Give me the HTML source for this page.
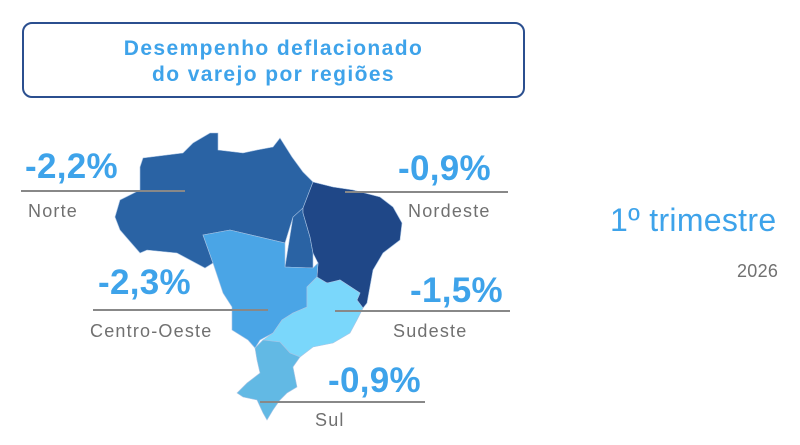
<!DOCTYPE html>
<html><head><meta charset="utf-8"><style>
body{margin:0;width:800px;height:445px;background:#fff;position:relative;overflow:hidden;font-family:"Liberation Sans",sans-serif}
.box{position:absolute;left:22px;top:22px;width:503px;height:76px;border:2px solid #2b4f8f;border-radius:10px;color:#3ea3ea;font-weight:bold;font-size:21px;letter-spacing:1.4px;text-align:center;line-height:26px;padding-top:12px;box-sizing:border-box}
.p{position:absolute;color:#3ea3ea;font-weight:bold;font-size:35px;letter-spacing:0.3px;line-height:1}
.l{position:absolute;color:#707070;font-size:18px;letter-spacing:1.2px;line-height:1}
.ln{position:absolute;height:2px;background:#888}
</style></head><body>
<div class="box">Desempenho deflacionado<br>do varejo por regiões</div>
<svg width="800" height="445" style="position:absolute;left:0;top:0">
<g stroke="#a9c4e4" stroke-width="0.6">
<polygon fill="#2a63a4" points="115,217 120,200 140,190 140,167 143,158 183,153 193,143 210,133 218,133 218,150 243,153 257,150 273,147 280,138 292,157 303,172 313,182 303,208 293,217 285,267 313,268 313,253 310,237 303,213 303,208 313,182 303,208 293,217 285,243 230,230 203,235 213,263 205,268 177,253 147,250 140,253 120,230"/>
<polygon fill="#1f4787" points="313,182 333,187 353,190 380,197 393,207 402,223 400,240 383,253 373,270 367,303 363,308 357,300 360,293 340,280 330,283 320,282 317,277 318,263 313,253 310,237 303,213 303,208"/>
<polygon fill="#4aa5e6" points="203,235 230,230 285,243 285,267 313,268 318,263 317,277 307,287 307,307 293,313 282,320 273,333 260,340 255,348 248,340 232,330 232,307 223,293 213,263"/>
<polygon fill="#7ad7fb" points="317,277 327,283 340,280 360,293 357,300 363,308 357,320 350,333 333,343 313,347 300,357 290,353 280,342 263,340 273,333 282,320 293,313 307,307 307,287"/>
<polygon fill="#62b9e4" points="263,340 280,342 290,353 300,357 293,367 297,387 287,393 280,400 273,410 267,420 263,413 257,400 243,397 237,393 247,383 260,373 257,360 255,348"/>
</g>
</svg>
<div class="p" style="left:25px;top:149px">-2,2%</div>
<div class="ln" style="left:21px;top:190px;width:164px"></div>
<div class="l" style="left:28px;top:202px">Norte</div>
<div class="p" style="left:398px;top:151px">-0,9%</div>
<div class="ln" style="left:345px;top:191px;width:163px"></div>
<div class="l" style="left:408px;top:202px">Nordeste</div>
<div class="p" style="left:98px;top:265px">-2,3%</div>
<div class="ln" style="left:93px;top:309px;width:175px"></div>
<div class="l" style="left:90px;top:322px">Centro-Oeste</div>
<div class="p" style="left:410px;top:273px">-1,5%</div>
<div class="ln" style="left:335px;top:310px;width:175px"></div>
<div class="l" style="left:393px;top:322px">Sudeste</div>
<div class="p" style="left:328px;top:363px">-0,9%</div>
<div class="ln" style="left:260px;top:401px;width:165px"></div>
<div class="l" style="left:315px;top:411px">Sul</div>
<div style="position:absolute;left:610px;top:204px;color:#3ea3ea;font-size:32px;letter-spacing:0.3px;line-height:1">1º trimestre</div>
<div class="l" style="left:737px;top:262px;letter-spacing:0.3px">2026</div>
</body></html>
